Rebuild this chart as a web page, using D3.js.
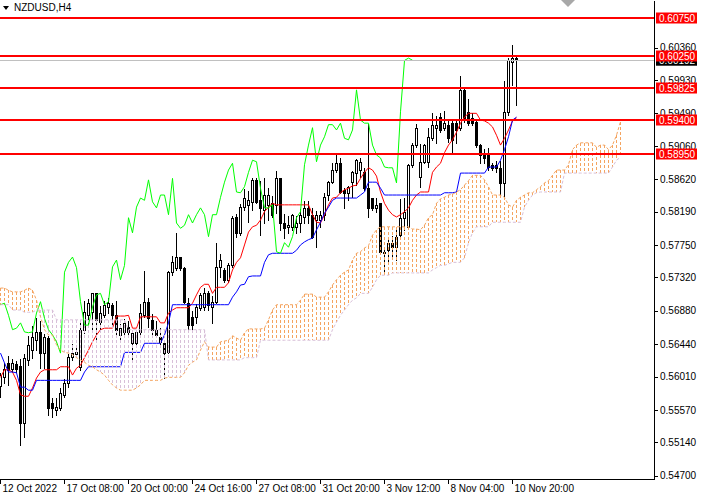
<!DOCTYPE html>
<html><head><meta charset="utf-8">
<script src="https://cdn.jsdelivr.net/npm/d3@7"></script>
<style>html,body{margin:0;padding:0;background:#fff;overflow:hidden}svg{display:block}</style>
</head><body><svg id="c" width="701" height="498"></svg>
<script>
// ---- data (NZDUSD H4) ----
const symbolTitle = "NZDUSD,H4";
const openP = [.5589,.5600,.5619,.5611,.5618,.5615,.5540,.5623,.5636,.5649,
 .5660,.5632,.5652,.5566,.5557,.5559,.5577,.5593,.5627,.5631,
 .5614,.5663,.5682,.5686,.5711,.5673,.5682,.5693,.5696,.5682,
 .5656,.5660,.5667,.5645,.5645,.5660,.5682,.5700,.5676,.5663,
 .5653,.5645,.5633,.5739,.5745,.5759,.5745,.5698,.5680,.5680,
 .5692,.5693,.5711,.5693,.5700,.5746,.5742,.5729,.5748,.5812,
 .5791,.5825,.5828,.5832,.5861,.5834,.5821,.5828,.5830,.5828,
 .5863,.5804,.5799,.5799,.5799,.5804,.5812,.5824,.5815,.5808,
 .5808,.5815,.5841,.5858,.5874,.5883,.5848,.5844,.5858,.5870,
 .5874,.5871,.5850,.5837,.5824,.5830,.5766,.5768,.5778,.5772,
 .5788,.5811,.5799,.5881,.5907,.5865,.5885,.5885,.5916,.5930,
 .5944,.5930,.5934,.5936,.5936,.5930,.5980,.5951,.5943,.5938,
 .5907,.5897,.5897,.5881,.5881,.5877,.5857,.5951,.6017,.6022];
const highP = [.5607,.5620,.5630,.5626,.5623,.5626,.5632,.5656,.5669,.5680,
 .5676,.5659,.5656,.5574,.5574,.5587,.5599,.5632,.5645,.5640,
 .5673,.5702,.5705,.5713,.5713,.5696,.5702,.5706,.5700,.5702,
 .5672,.5678,.5676,.5663,.5663,.5698,.5742,.5706,.5685,.5676,
 .5667,.5649,.5742,.5762,.5792,.5760,.5747,.5706,.5689,.5698,
 .5713,.5719,.5715,.5709,.5779,.5764,.5746,.5752,.5815,.5817,
 .5830,.5850,.5848,.5865,.5865,.5861,.5865,.5852,.5841,.5874,
 .5865,.5817,.5815,.5817,.5815,.5824,.5834,.5834,.5825,.5821,
 .5821,.5845,.5861,.5885,.5897,.5891,.5852,.5854,.5874,.5890,
 .5891,.5878,.5936,.5838,.5838,.5830,.5772,.5786,.5788,.5797,
 .5837,.5838,.5883,.5911,.5936,.5910,.5910,.5931,.5951,.5947,
 .5951,.5953,.5940,.5940,.5940,.6000,.5982,.5969,.5951,.5940,
 .5910,.5903,.5904,.5885,.5887,.5887,.5993,.6023,.6041,.6027];
const lowP = [.5574,.5593,.5590,.5607,.5607,.5511,.5521,.5616,.5626,.5636,
 .5612,.5612,.5550,.5548,.5550,.5557,.5574,.5587,.5623,.5627,
 .5610,.5659,.5669,.5663,.5649,.5663,.5680,.5685,.5669,.5653,
 .5649,.5653,.5656,.5623,.5643,.5656,.5680,.5667,.5653,.5653,
 .5640,.5599,.5632,.5735,.5742,.5742,.5698,.5660,.5660,.5672,
 .5689,.5689,.5689,.5672,.5698,.5733,.5726,.5726,.5746,.5786,
 .5788,.5821,.5805,.5821,.5830,.5788,.5804,.5808,.5812,.5817,
 .5795,.5784,.5791,.5795,.5791,.5792,.5804,.5804,.5784,.5772,
 .5799,.5808,.5834,.5857,.5871,.5844,.5824,.5834,.5838,.5854,
 .5865,.5848,.5812,.5821,.5819,.5764,.5739,.5751,.5758,.5755,
 .5786,.5795,.5797,.5878,.5904,.5852,.5883,.5878,.5914,.5910,
 .5924,.5927,.5911,.5897,.5910,.5927,.5938,.5934,.5934,.5904,
 .5883,.5883,.5874,.5874,.5871,.5841,.5837,.5947,.5986,.5960];
const closeP = [.5603,.5611,.5610,.5619,.5611,.5540,.5626,.5643,.5653,.5660,
 .5632,.5653,.5559,.5559,.5561,.5579,.5593,.5627,.5632,.5633,
 .5663,.5686,.5698,.5711,.5676,.5685,.5696,.5698,.5682,.5663,
 .5665,.5672,.5660,.5659,.5660,.5685,.5700,.5678,.5663,.5656,
 .5647,.5632,.5739,.5752,.5759,.5745,.5700,.5669,.5669,.5693,
 .5709,.5711,.5696,.5700,.5746,.5755,.5729,.5748,.5811,.5791,
 .5825,.5837,.5834,.5861,.5832,.5824,.5841,.5841,.5815,.5863,
 .5804,.5797,.5801,.5815,.5804,.5815,.5824,.5815,.5786,.5815,
 .5815,.5838,.5858,.5874,.5883,.5845,.5844,.5852,.5871,.5887,
 .5885,.5850,.5824,.5824,.5828,.5766,.5764,.5778,.5772,.5786,
 .5811,.5819,.5881,.5907,.5930,.5885,.5907,.5918,.5934,.5934,
 .5927,.5936,.5916,.5914,.5927,.5980,.5940,.5936,.5936,.5907,
 .5894,.5890,.5878,.5877,.5877,.5857,.5951,.6019,.6022,.60192];
const tenkan = [.5600,.5610,.5610,.5607,.5596,.5577,.5575,.5575,.5586,.5599,
 .5607,.5610,.5610,.5610,.5610,.5614,.5614,.5614,.5603,.5612,
 .5616,.5626,.5636,.5647,.5656,.5663,.5665,.5665,.5665,.5681,
 .5681,.5681,.5682,.5665,.5665,.5680,.5680,.5680,.5680,.5680,
 .5672,.5672,.5685,.5689,.5692,.5692,.5692,.5692,.5698,.5709,
 .5719,.5723,.5723,.5711,.5719,.5719,.5719,.5725,.5742,.5752,
 .5758,.5775,.5792,.5799,.5801,.5808,.5819,.5825,.5830,.5828,
 .5828,.5828,.5828,.5828,.5828,.5828,.5828,.5828,.5815,.5805,
 .5804,.5815,.5828,.5837,.5838,.5844,.5848,.5850,.5853,.5854,
 .5863,.5871,.5877,.5874,.5866,.5845,.5830,.5821,.5815,.5812,
 .5815,.5819,.5824,.5834,.5841,.5845,.5845,.5845,.5871,.5878,
 .5883,.5897,.5907,.5914,.5924,.5936,.5944,.5949,.5949,.5949,
 .5940,.5939,.5936,.5931,.5920,.5907,.5916,.5927,.5939,.5943];
const kijun = [.5632,.5619,.5607,.5607,.5606,.5587,.5587,.5583,.5583,.5596,
 .5596,.5596,.5596,.5596,.5596,.5596,.5596,.5596,.5596,.5596,
 .5596,.5607,.5614,.5614,.5614,.5614,.5614,.5614,.5614,.5614,
 .5614,.5633,.5633,.5633,.5633,.5633,.5645,.5645,.5645,.5645,
 .5645,.5656,.5672,.5696,.5696,.5696,.5696,.5696,.5696,.5696,
 .5696,.5696,.5696,.5696,.5696,.5696,.5696,.5696,.5706,.5713,
 .5722,.5723,.5733,.5734,.5734,.5734,.5752,.5762,.5764,.5764,
 .5764,.5764,.5764,.5764,.5768,.5775,.5779,.5782,.5784,.5795,
 .5805,.5817,.5825,.5834,.5837,.5837,.5837,.5837,.5837,.5837,
 .5841,.5845,.5858,.5858,.5858,.5850,.5841,.5841,.5841,.5841,
 .5841,.5841,.5841,.5841,.5841,.5841,.5841,.5841,.5841,.5841,
 .5841,.5844,.5844,.5844,.5845,.5870,.5870,.5870,.5870,.5870,
 .5870,.5870,.5878,.5878,.5878,.5887,.5901,.5918,.5940,.5944];
const spanA = [.5718,.5718,.5715,.5713,.5713,.5713,.5715,.5718,.5715,.5702,
 .5680,.5663,.5656,.5656,.5643,.5636,.5633,.5632,.5630,.5626,
 .5623,.5620,.5616,.5614,.5610,.5607,.5603,.5596,.5590,.5586,
 .5583,.5583,.5583,.5583,.5586,.5590,.5596,.5596,.5596,.5596,
 .5596,.5599,.5600,.5600,.5600,.5600,.5606,.5616,.5620,.5623,
 .5636,.5647,.5640,.5640,.5640,.5647,.5648,.5649,.5655,.5652,
 .5649,.5659,.5664,.5664,.5664,.5664,.5665,.5676,.5689,.5696,
 .5696,.5696,.5696,.5696,.5696,.5702,.5710,.5710,.5710,.5706,
 .5706,.5706,.5713,.5722,.5729,.5735,.5739,.5742,.5755,.5764,
 .5766,.5771,.5774,.5788,.5795,.5799,.5799,.5799,.5799,.5799,
 .5799,.5799,.5799,.5796,.5796,.5795,.5801,.5811,.5815,.5830,
 .5836,.5838,.5841,.5842,.5845,.5848,.5854,.5860,.5867,.5867,
 .5867,.5861,.5852,.5841,.5841,.5841,.5838,.5828,.5825,.5834,
 .5838,.5841,.5844,.5844,.5848,.5852,.5857,.5860,.5867,.5874,
 .5874,.5874,.5881,.5901,.5907,.5910,.5910,.5910,.5910,.5904,
 .5907,.5907,.5901,.5907,.5920,.5938];
const spanB = [.5696,.5696,.5696,.5689,.5689,.5689,.5686,.5686,.5686,.5689,
 .5689,.5689,.5689,.5689,.5676,.5676,.5676,.5676,.5676,.5676,
 .5676,.5676,.5676,.5676,.5676,.5676,.5676,.5676,.5676,.5676,
 .5676,.5676,.5663,.5663,.5663,.5663,.5663,.5663,.5663,.5663,
 .5663,.5663,.5663,.5663,.5663,.5663,.5663,.5663,.5663,.5663,
 .5663,.5663,.5623,.5623,.5623,.5623,.5623,.5623,.5623,.5623,
 .5623,.5626,.5626,.5626,.5626,.5649,.5649,.5649,.5649,.5649,
 .5649,.5649,.5649,.5649,.5649,.5649,.5649,.5649,.5649,.5649,
 .5649,.5649,.5649,.5663,.5673,.5682,.5689,.5696,.5702,.5705,
 .5711,.5711,.5711,.5719,.5729,.5735,.5735,.5735,.5738,.5738,
 .5738,.5738,.5738,.5738,.5738,.5738,.5738,.5738,.5742,.5745,
 .5748,.5748,.5750,.5752,.5752,.5752,.5758,.5778,.5791,.5799,
 .5799,.5799,.5799,.5805,.5805,.5805,.5805,.5805,.5805,.5805,
 .5805,.5825,.5834,.5841,.5844,.5845,.5845,.5845,.5845,.5845,
 .5845,.5870,.5870,.5870,.5870,.5870,.5870,.5870,.5870,.5870,
 .5870,.5870,.5870,.5878,.5887,.5891];
const chikouShift = 26;
const priceTicks = [0.60360,0.59930,0.59490,0.59060,0.58620,0.58190,0.57750,0.57320,0.56880,0.56440,0.56010,0.55570,0.55140,0.54700];
const timeTickBars = [0,16,32,48,64,80,96,112,128];
const timeLabels = ["12 Oct 2022","17 Oct 08:00","20 Oct 00:00","24 Oct 16:00","27 Oct 08:00","31 Oct 20:00","3 Nov 12:00","8 Nov 04:00","10 Nov 20:00"];
const levels = [0.60750,0.60250,0.59825,0.59400,0.58950];
const lastPrice = 0.60192;

// ---- drawing ----
const FONT = "'Liberation Sans', Arial, sans-serif";
const PR = 654, PB = 479;
const svg = d3.select("#c");
svg.append("rect").attr("width",701).attr("height",498).attr("fill","#fff");
svg.append("defs").append("clipPath").attr("id","clip")
  .append("rect").attr("x",0).attr("y",0).attr("width",PR).attr("height",PB);

const x = d3.scaleLinear().domain([0,163.5]).range([0,PR]);
const cx = i => x(i) + 0.5;
const y = d3.scaleLinear().domain([0.54656,0.60988]).range([PB,0]);
const py = v => Math.round(y(v)) + 0.5;

const plot = svg.append("g").attr("clip-path","url(#clip)");

// candles
const bars = d3.range(openP.length).map(i => ({i,o:openP[i],h:highP[i],l:lowP[i],c:closeP[i]}));
const cg = plot.append("g").attr("shape-rendering","crispEdges");
cg.selectAll("line.w").data(bars).join("line").attr("class","w")
  .attr("x1",d=>cx(d.i)).attr("x2",d=>cx(d.i))
  .attr("y1",d=>py(d.h)).attr("y2",d=>py(d.l)+0.5)
  .attr("stroke","#000").attr("stroke-width",1);
cg.selectAll("rect.b").data(bars).join("rect").attr("class","b")
  .attr("x",d=>cx(d.i)-1).attr("width",2)
  .attr("y",d=>py(Math.max(d.o,d.c)))
  .attr("height",d=>Math.max(py(Math.min(d.o,d.c))-py(Math.max(d.o,d.c)),0.01))
  .attr("fill",d=>d.c>=d.o?"#fff":"#000")
  .attr("stroke","#000").attr("stroke-width",1);

const line = d3.line().x(d=>cx(d[0])).y(d=>y(d[1]));
// tenkan / kijun
plot.append("path").attr("d",line(tenkan.map((v,i)=>[i,v])))
  .attr("fill","none").attr("stroke","#ff0000").attr("stroke-width",1);
plot.append("path").attr("d",line(kijun.map((v,i)=>[i,v])))
  .attr("fill","none").attr("stroke","#0000ff").attr("stroke-width",1);

// cloud hatch
const SANDY = "#f4a460", THISTLE = "#d8bfd8";
plot.append("g").attr("shape-rendering","crispEdges")
  .selectAll("line").data(spanA.map((a,i)=>({i,a,b:spanB[i]}))).join("line")
  .attr("x1",d=>cx(d.i)).attr("x2",d=>cx(d.i))
  .attr("y1",d=>Math.round(y(Math.max(d.a,d.b)))).attr("y2",d=>Math.round(y(Math.min(d.a,d.b))))
  .attr("stroke",d=>d.a>=d.b?SANDY:THISTLE).attr("stroke-width",1)
  .attr("stroke-dasharray","3,2");

// chikou
plot.append("path").attr("d",line(closeP.slice(chikouShift).map((v,k)=>[k,v])))
  .attr("fill","none").attr("stroke","#00ff00").attr("stroke-width",1);

// cloud borders
plot.append("path").attr("d",line(spanA.map((v,i)=>[i,v])))
  .attr("fill","none").attr("stroke",SANDY).attr("stroke-width",1).attr("stroke-dasharray","3,2");
plot.append("path").attr("d",line(spanB.map((v,i)=>[i,v])))
  .attr("fill","none").attr("stroke",THISTLE).attr("stroke-width",1).attr("stroke-dasharray","3,2");

// bid line
plot.append("line").attr("x1",0).attr("x2",PR).attr("y1",py(lastPrice)).attr("y2",py(lastPrice))
  .attr("stroke","#c0c0c0").attr("stroke-width",1).attr("shape-rendering","crispEdges");

// levels
plot.append("g").selectAll("line").data(levels).join("line")
  .attr("x1",0).attr("x2",PR).attr("y1",d=>Math.round(y(d))).attr("y2",d=>Math.round(y(d)))
  .attr("stroke","#ff0000").attr("stroke-width",2).attr("shape-rendering","crispEdges");

// chart-shift marker
svg.append("polygon").attr("points","561,0 575,0 568,7").attr("fill","#a8a8a8");

// axes
const xt = d3.scaleLinear().domain([0,163.5]).range([0,PR]);
const gx = svg.append("g").attr("transform",`translate(0,${PB})`)
  .call(d3.axisBottom(xt).tickValues(timeTickBars).tickFormat((d,k)=>timeLabels[k])
    .tickSize(5).tickSizeOuter(0).tickPadding(1));
gx.attr("font-family",FONT).attr("font-size",10);
gx.selectAll("text").attr("text-anchor","start").attr("x",2).attr("fill","#000");
gx.selectAll("line,path").attr("stroke","#000").attr("shape-rendering","crispEdges");

const gy = svg.append("g").attr("transform",`translate(${PR},0)`)
  .call(d3.axisRight(y).tickValues(priceTicks).tickFormat(d3.format(".5f"))
    .tickSize(4).tickSizeOuter(0).tickPadding(2));
gy.attr("font-family",FONT).attr("font-size",10);
gy.selectAll("text").attr("fill","#000");
gy.selectAll("line,path").attr("stroke","#000").attr("shape-rendering","crispEdges");

// price labels
const fmt = d3.format(".5f");
const lg = svg.append("g").attr("font-family",FONT).attr("font-size",10);
lg.append("rect").attr("x",656).attr("y",y(lastPrice)-5.5).attr("width",41).attr("height",11).attr("fill","#000");
lg.append("text").attr("x",659).attr("y",y(lastPrice)+3.6).attr("fill","#fff").text(fmt(lastPrice));
levels.forEach(v=>{
  lg.append("rect").attr("x",656).attr("y",Math.round(y(v))-5.5).attr("width",41).attr("height",11).attr("fill","#ff0000");
  lg.append("text").attr("x",659).attr("y",Math.round(y(v))+3.6).attr("fill","#fff").text(fmt(v));
});

// title
svg.append("polygon").attr("points","3,6 9,6 6,10").attr("fill","#000");
svg.append("text").attr("x",14).attr("y",11).attr("font-family",FONT).attr("font-size",10)
  .attr("fill","#000").text(symbolTitle);
</script>
</body></html>
